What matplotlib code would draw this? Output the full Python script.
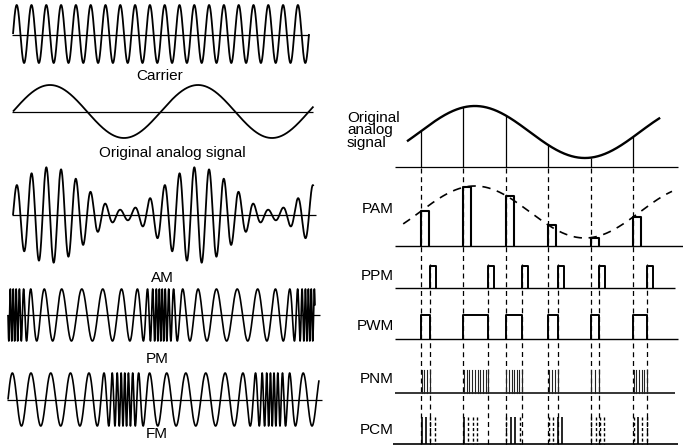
import numpy as np
import matplotlib
matplotlib.use("Agg")
import matplotlib.pyplot as plt

# ------------------------------------------------------------------ data
carrier_cycles_per_period = 10        # carrier cycles per analog-signal period
carrier_periods = 2.0                  # analog periods spanned by the carrier
analog_periods = 2.03                  # analog periods drawn on the left
am_mod_index = 0.81                    # AM modulation depth
# instantaneous frequency model (cycles / px): f0*(1+a*cos)+b*exp(kappa*(cos-1))
pm_params = {"f0": 1 / 17, "a": 0.20, "b": 0.28, "kappa": 8.0, "center": 1.0}
fm_params = {"f0": 1 / 18, "a": 0.10, "b": 0.22, "kappa": 6.0, "center": 0.75}

sample_index = [0, 1, 2, 3, 4, 5]
analog_period_samples = 5.19           # analog period in sample intervals
analog_peak_sample = 1.27              # position of analog maximum (samples)
pwm_widths = [0.21, 0.59, 0.38, 0.24, 0.19, 0.33]   # fraction of sample interval
pnm_counts = [4, 10, 7, 4, 3, 6]
pcm_codes = ["1100", "1000", "0110", "0011", "0000", "0100"]

left_labels = ["Carrier", "Original analog signal", "AM", "PM", "FM"]
right_labels = ["PAM", "PPM", "PWM", "PNM", "PCM"]
right_title = ["Original", "analog", "signal"]

# ------------------------------------------------------------------ layout
W, H = 683, 446
LX0, LPX = 13.0, 148.0     # left: px of t=0, px per analog period
RX0, RDX = 421.0, 42.4     # right: px of sample 0, px per sample interval
FONT = ["Liberation Sans", "DejaVu Sans"]
FS = 11
LW = 1.3

fig = plt.figure(figsize=(W / 100, H / 100), dpi=100)
ax = fig.add_axes([0, 0, 1, 1])
ax.set_xlim(0, W)
ax.set_ylim(H, 0)
ax.axis("off")


def line(xs, ys, lw=LW, **kw):
    ax.plot(xs, ys, color="black", lw=lw, solid_capstyle="butt", **kw)


def label(x, y, s, ha="center", **kw):
    ax.text(x, y, s, ha=ha, va="baseline", fontsize=FS, family=FONT, color="black", **kw)


# ---------------- left column
def lx(t):
    return LX0 + LPX * np.asarray(t)


# carrier
t = np.linspace(0, carrier_periods, 5000)
line([12, 309], [35, 35], lw=0.9)
line(lx(t), 34 - 29 * np.sin(2 * np.pi * carrier_cycles_per_period * t))

# original analog signal
t = np.linspace(0, analog_periods, 3000)
line([12, 313], [112, 112], lw=0.9)
line(lx(t), 111.5 - 26.5 * np.sin(2 * np.pi * t))

# AM
t = np.linspace(0, analog_periods, 6000)
env = 26.5 * (1 + am_mod_index * np.sin(2 * np.pi * t))
line([12, 316], [215, 215], lw=0.9)
line(lx(t), 215 - env * np.sin(2 * np.pi * carrier_cycles_per_period * t))


def angle_mod(p, x_start, x_end, n=12000):
    x = np.linspace(x_start, x_end, n)
    th = 2 * np.pi * ((x - LX0) / LPX - p["center"])
    f = p["f0"] * (1 + p["a"] * np.cos(th)) + p["b"] * np.exp(p["kappa"] * (np.cos(th) - 1))
    ph = 2 * np.pi * np.concatenate([[0], np.cumsum(f[1:] * np.diff(x))])
    return x, np.sin(ph)


# PM
x, s = angle_mod(pm_params, 8, 315)
line([7, 320], [315, 315], lw=0.9)
line(x, 315 + 26 * s, lw=1.2)

# FM
x, s = angle_mod(fm_params, 8, 319)
line([7, 322], [400, 400], lw=0.9)
line(x, 399.5 - 26.5 * s, lw=1.2)

for (px, py), txt in zip([(160, 80.5), (172.5, 156.5), (162, 282), (157, 363), (157, 437.5)],
                         left_labels):
    label(px, py, txt)

# ---------------- right column
def rx(u):
    return RX0 + RDX * np.asarray(u, dtype=float)


def analog_r(u):
    return np.cos(2 * np.pi * (np.asarray(u, dtype=float) - analog_peak_sample) / analog_period_samples)


levels = analog_r(sample_index)
xk = rx(sample_index)
w_px = np.array(pwm_widths) * RDX

# original analog (right)
u = np.linspace(-0.33, 5.64, 2000)
line([395, 678], [167, 167], lw=0.9)
line(rx(u), 132 - 26 * analog_r(u), lw=1.7)
for x0, lv in zip(xk, levels):
    line([x0, x0], [132 - 26 * lv, 167], lw=0.9)

# dashed guide lines
for x0, w in zip(xk, w_px):
    line([x0, x0], [168, 444], lw=0.9, dashes=(4, 3))
    line([x0 + w, x0 + w], [264, 444], lw=0.9, dashes=(4, 3))

# PAM
u = np.linspace(-0.42, 5.92, 2000)
line([395, 683], [246, 246], lw=1.0)
line(rx(u), 212 - 26 * analog_r(u), lw=1.2, dashes=(5, 4))
for x0, lv in zip(xk, levels):
    top = 212 - 26 * lv
    line([x0, x0, x0 + 8, x0 + 8], [246, top, top, 246], lw=1.5)

# PPM
line([395, 675], [288, 288], lw=1.0)
for x0, w in zip(xk, w_px):
    a = x0 + w
    line([a, a, a + 6, a + 6], [288, 266, 266, 288], lw=1.4)

# PWM
line([395, 678], [339, 339], lw=1.0)
for x0, w in zip(xk, w_px):
    line([x0, x0, x0 + w, x0 + w], [339, 315, 315, 339], lw=1.4)

# PNM
line([395, 675], [393, 393], lw=1.1)
for x0, w, n in zip(xk, w_px, pnm_counts):
    for xl in np.linspace(x0 + 0.5, x0 + w, n):
        ax.plot([xl, xl], [370, 393], color="#222222", lw=0.8)

# PCM
line([393, 678], [444, 444], lw=1.2)
for x0, code in zip(xk, pcm_codes):
    for i, bit in enumerate(code):
        xb = x0 + 0.5 + i * 4.4
        if bit == "1":
            line([xb, xb], [417, 444], lw=1.2)
        else:
            line([xb, xb], [417, 444], lw=1.0, dashes=(2.2, 1.6))

for py, txt in zip([213, 280, 330, 383, 433.5], right_labels):
    label(394, py, txt, ha="right")
label(347, 146.5, "\n".join(right_title), ha="left", linespacing=0.86)

fig.savefig("out.png", dpi=100)
